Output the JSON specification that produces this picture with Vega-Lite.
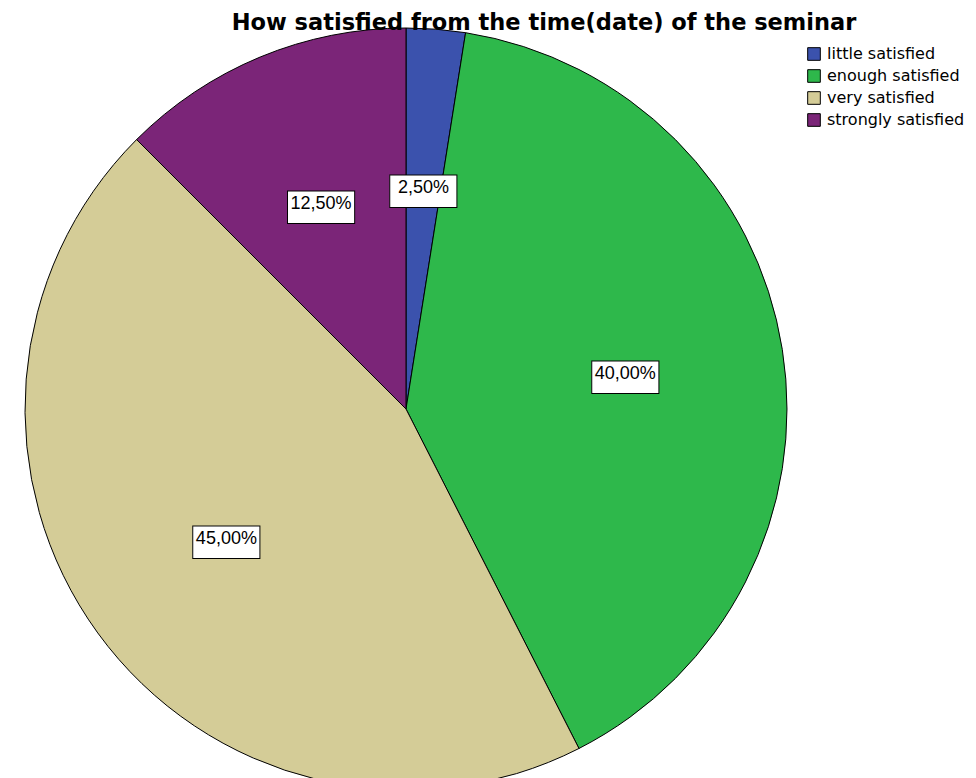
{
  "$schema": "https://vega.github.io/schema/vega-lite/v6.json",
  "autosize": {"type": "none"},
  "padding": {"top": 40, "left": 0, "right": 164, "bottom": 0},
  "width": 812,
  "height": 738,
  "background": "white",
  "title": {
    "text": "How satisfied from the time(date) of the seminar",
    "font": "DejaVu Sans",
    "fontSize": 22.5,
    "fontWeight": "bold",
    "color": "black",
    "anchor": "middle",
    "dx": 138,
    "offset": -8
  },
  "data": {
    "values": [
      {"category": "little satisfied", "rank": 1, "percent": 2.5, "label": "2,50%"},
      {"category": "enough satisfied", "rank": 2, "percent": 40, "label": "40,00%"},
      {"category": "very satisfied", "rank": 3, "percent": 45, "label": "45,00%"},
      {"category": "strongly satisfied", "rank": 4, "percent": 12.5, "label": "12,50%"}
    ]
  },
  "encoding": {
    "theta": {"field": "percent", "type": "quantitative", "stack": true},
    "order": {"field": "rank", "type": "quantitative"}
  },
  "layer": [
    {
      "mark": {"type": "arc", "outerRadius": 381, "stroke": "black", "strokeWidth": 1},
      "encoding": {
        "color": {
          "field": "category",
          "type": "nominal",
          "scale": {
            "domain": ["little satisfied", "enough satisfied", "very satisfied", "strongly satisfied"],
            "range": ["#3b52ad", "#2eb84b", "#d4cc97", "#7b2578"]
          },
          "legend": {
            "title": null,
            "orient": "none",
            "legendX": 806,
            "legendY": 6,
            "symbolType": "square",
            "symbolSize": 160,
            "symbolStrokeColor": "black",
            "symbolStrokeWidth": 1,
            "symbolOpacity": 1,
            "labelFont": "DejaVu Sans",
            "labelFontSize": 16,
            "labelColor": "black",
            "labelOffset": 5,
            "rowPadding": 4,
            "labelLimit": 300
          }
        }
      }
    },
    {
      "mark": {"type": "text", "radius": 222, "text": "▬", "font": "DejaVu Sans", "fontSize": 88, "fill": "white", "stroke": "black", "strokeWidth": 1, "baseline": "middle", "align": "center"}
    },
    {
      "mark": {"type": "text", "radius": 222, "font": "Liberation Sans", "fontSize": 18, "fill": "black", "baseline": "middle", "align": "center"},
      "encoding": {"text": {"field": "label", "type": "nominal"}}
    }
  ],
  "config": {"view": {"stroke": null}}
}
